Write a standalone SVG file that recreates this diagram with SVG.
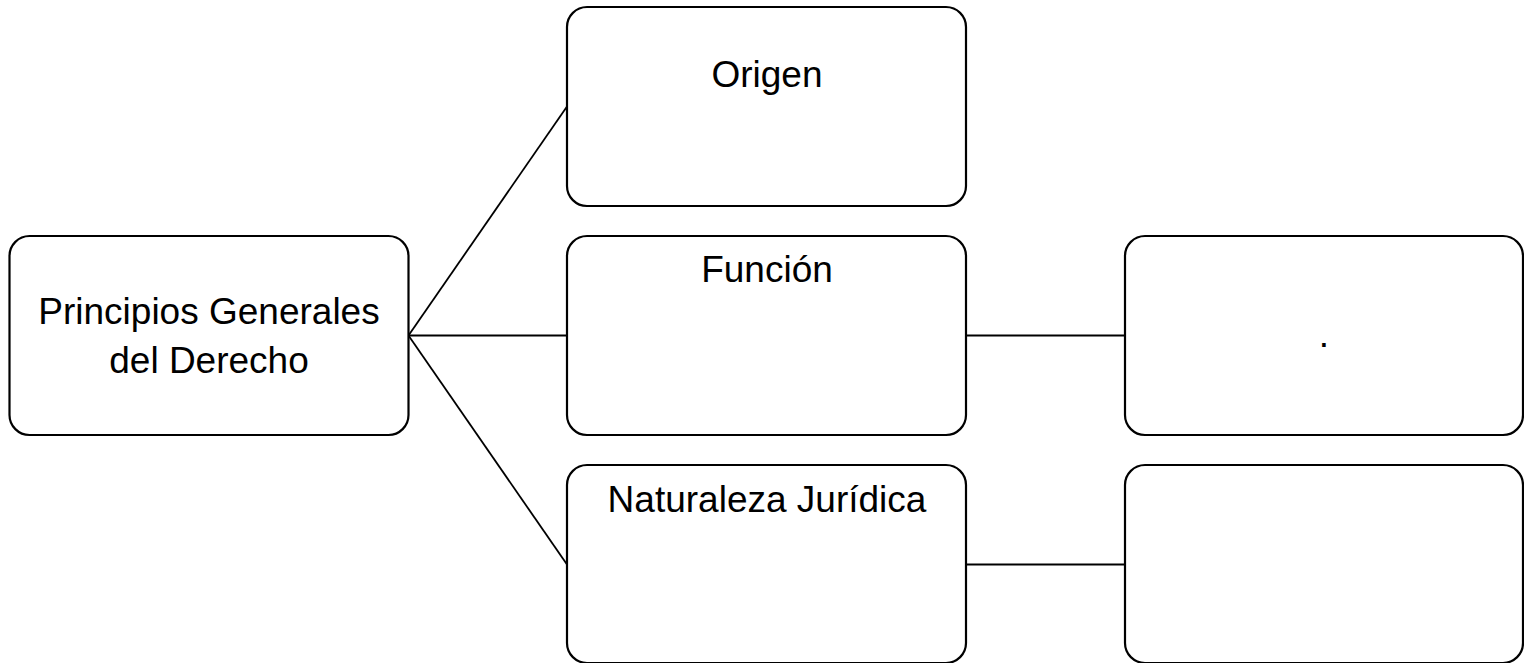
<svg xmlns="http://www.w3.org/2000/svg" width="1524" height="663" viewBox="0 0 1524 663">
<style>
.box{fill:#fff;stroke:#000;stroke-width:2.2}
.lbl{font-family:"Liberation Sans",Arial,sans-serif;font-size:37px;fill:#000;text-anchor:middle}
.con{stroke:#000;stroke-width:1.8;fill:none}
</style>
<rect width="1524" height="663" fill="#fff"/>
<g id="connectors">
<line class="con" x1="408.5" y1="335.5" x2="567" y2="106.5"/>
<line class="con" x1="408.5" y1="335.5" x2="567" y2="335.5"/>
<line class="con" x1="408.5" y1="335.5" x2="567" y2="564.5"/>
<line class="con" x1="966" y1="335.5" x2="1125" y2="335.5"/>
<line class="con" x1="966" y1="564.5" x2="1125" y2="564.5"/>
</g>
<g id="principios">
<rect class="box" x="9.5" y="236" width="399" height="199" rx="20"/>
<text class="lbl" x="209" y="324">Principios Generales</text>
<text class="lbl" x="209" y="372.5">del Derecho</text>
</g>
<g id="origen">
<rect class="box" x="567" y="7" width="399" height="199" rx="20"/>
<text class="lbl" x="767" y="87">Origen</text>
</g>
<g id="funcion">
<rect class="box" x="567" y="236" width="399" height="199" rx="20"/>
<text class="lbl" x="767" y="282">Función</text>
</g>
<g id="naturaleza">
<rect class="box" x="567" y="465" width="399" height="198" rx="20"/>
<text class="lbl" x="767" y="512">Naturaleza Jurídica</text>
</g>
<g id="funcion-detalle">
<rect class="box" x="1125" y="236" width="398" height="199" rx="20"/>
<text class="lbl" x="1324" y="347">.</text>
</g>
<g id="naturaleza-detalle">
<rect class="box" x="1125" y="465" width="398" height="198" rx="20"/>
</g>
</svg>
